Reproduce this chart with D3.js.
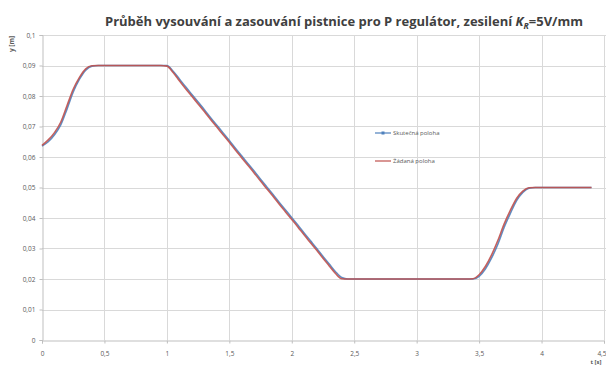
<!DOCTYPE html>
<html>
<head>
<meta charset="utf-8">
<script src="https://cdn.jsdelivr.net/npm/d3@7/dist/d3.min.js"></script>
<style>
  html, body { margin: 0; padding: 0; background: #ffffff; }
  svg { display: block; }
  text { font-family: "Open Sans", "Liberation Sans", Arial, sans-serif; }
</style>
</head>
<body>
<svg id="chart" width="606" height="365"></svg>
<script>
// Time samples [s]
const time = [
  0.00,0.05,0.10,0.15,0.20,0.25,0.30,0.35,0.40,0.45,
  0.50,0.55,0.60,0.65,0.70,0.75,0.80,0.85,0.90,0.95,
  1.00,1.05,1.10,1.15,1.20,1.25,1.30,1.35,1.40,1.45,
  1.50,1.55,1.60,1.65,1.70,1.75,1.80,1.85,1.90,1.95,
  2.00,2.05,2.10,2.15,2.20,2.25,2.30,2.35,2.40,2.45,
  2.50,2.55,2.60,2.65,2.70,2.75,2.80,2.85,2.90,2.95,
  3.00,3.05,3.10,3.15,3.20,3.25,3.30,3.35,3.40,3.45,
  3.50,3.55,3.60,3.65,3.70,3.75,3.80,3.85,3.90,3.95,
  4.00,4.05,4.10,4.15,4.20,4.25,4.30,4.35,4.40
];

// Measured piston rod position [m]
const actualPos = [
  0.0636,0.0650,0.0673,0.0705,0.0757,0.0813,0.0855,0.0885,0.0898,0.0900,
  0.0900,0.0900,0.0900,0.0900,0.0900,0.0900,0.0900,0.0900,0.0900,0.0900,
  0.0900,0.0881,0.0856,0.0830,0.0805,0.0780,0.0755,0.0729,0.0704,0.0679,
  0.0654,0.0628,0.0603,0.0578,0.0553,0.0527,0.0502,0.0477,0.0451,0.0426,
  0.0401,0.0376,0.0350,0.0325,0.0300,0.0274,0.0249,0.0224,0.0205,0.0200,
  0.0200,0.0200,0.0200,0.0200,0.0200,0.0200,0.0200,0.0200,0.0200,0.0200,
  0.0200,0.0200,0.0200,0.0200,0.0200,0.0200,0.0200,0.0200,0.0200,0.0200,
  0.0209,0.0233,0.0269,0.0314,0.0369,0.0415,0.0457,0.0484,0.0498,0.0500,
  0.0500,0.0500,0.0500,0.0500,0.0500,0.0500,0.0500,0.0500,0.0500
];

// Reference (desired) position [m]
const desiredPos = [
  0.0638,0.0656,0.0680,0.0714,0.0768,0.0822,0.0861,0.0889,0.0899,0.0900,
  0.0900,0.0900,0.0900,0.0900,0.0900,0.0900,0.0900,0.0900,0.0900,0.0900,
  0.0898,0.0877,0.0850,0.0824,0.0799,0.0774,0.0749,0.0723,0.0698,0.0673,
  0.0648,0.0622,0.0597,0.0572,0.0547,0.0521,0.0496,0.0471,0.0445,0.0420,
  0.0395,0.0370,0.0344,0.0319,0.0294,0.0268,0.0243,0.0218,0.0201,0.0200,
  0.0200,0.0200,0.0200,0.0200,0.0200,0.0200,0.0200,0.0200,0.0200,0.0200,
  0.0200,0.0200,0.0200,0.0200,0.0200,0.0200,0.0200,0.0200,0.0200,0.0201,
  0.0214,0.0241,0.0279,0.0326,0.0380,0.0425,0.0464,0.0488,0.0499,0.0500,
  0.0500,0.0500,0.0500,0.0500,0.0500,0.0500,0.0500,0.0500,0.0500
];

const xTicks = [0, 0.5, 1, 1.5, 2, 2.5, 3, 3.5, 4, 4.5];
const yTicks = [0, 0.01, 0.02, 0.03, 0.04, 0.05, 0.06, 0.07, 0.08, 0.09, 0.1];
const seriesNames = ["Skutečná poloha", "Žádaná poloha"];
const seriesColors = ["#4F81BD", "#C0504D"];

const svg = d3.select("#chart");
const W = 606, H = 365;
const plot = { left: 42, right: 604, top: 35, bottom: 340 };

const x = d3.scaleLinear().domain([0, 4.5]).range([plot.left, plot.right]);
const y = d3.scaleLinear().domain([0, 0.1]).range([plot.bottom, plot.top]);

const fmt = v => (v === 0 ? "0" : d3.format("~g")(v).replace(".", ","));

// Grid lines
const grid = svg.append("g");
grid.selectAll("line.h").data(yTicks.filter(v => v > 0)).join("line")
  .attr("x1", plot.left).attr("x2", W)
  .attr("y1", d => Math.round(y(d)) + 0.5).attr("y2", d => Math.round(y(d)) + 0.5)
  .attr("stroke", "#d9d9d9").attr("stroke-width", 1);
grid.selectAll("line.v").data(xTicks.filter(v => v > 0)).join("line")
  .attr("y1", plot.top).attr("y2", plot.bottom)
  .attr("x1", d => Math.round(x(d)) + 0.5).attr("x2", d => Math.round(x(d)) + 0.5)
  .attr("stroke", "#d9d9d9").attr("stroke-width", 1);

// Axes
const yAxis = d3.axisLeft(y).tickValues(yTicks).tickFormat(fmt).tickSize(3).tickPadding(4);
const xAxis = d3.axisBottom(x).tickValues(xTicks).tickFormat(fmt).tickSize(3).tickPadding(8);

const gy = svg.append("g").attr("transform", `translate(${plot.left + 0.5},0)`).call(yAxis);
const gx = svg.append("g").attr("transform", `translate(0,${plot.bottom + 0.5})`).call(xAxis);
[gx, gy].forEach(g => {
  g.select(".domain").attr("stroke", "#bfbfbf");
  g.selectAll(".tick line").attr("stroke", "#bfbfbf");
  g.selectAll(".tick text").attr("fill", "#595959").style("font-size", "6.5px");
});
// the last x label sits at the right edge of the chart
gx.selectAll(".tick text").filter(d => d === 4.5).attr("text-anchor", "end").attr("dx", 2);

// Axis titles
svg.append("text")
  .attr("transform", "translate(14,44) rotate(-90)")
  .attr("text-anchor", "middle")
  .attr("fill", "#595959").style("font-size", "6.5px").style("font-weight", "bold")
  .text("y [m]");
svg.append("text")
  .attr("x", 596).attr("y", 363.5)
  .attr("text-anchor", "middle")
  .attr("fill", "#595959").style("font-size", "6px").style("font-weight", "bold")
  .text("t [s]");

// Title
const title = svg.append("text")
  .attr("x", 105).attr("y", 26)
  .attr("fill", "#404040").style("font-size", "12px").style("font-weight", "bold")
  .attr("textLength", 478).attr("lengthAdjust", "spacingAndGlyphs");
title.append("tspan").text("Průběh vysouvání a zasouvání pistnice pro P regulátor, zesilení ");
title.append("tspan").style("font-style", "italic").text("K");
title.append("tspan").attr("dy", 3).style("font-size", "8px").style("font-style", "italic").text("R");
title.append("tspan").attr("dy", -3).text("=5V/mm");

// Series lines
const line = d3.line().x(d => x(d[0])).y(d => y(d[1])).curve(d3.curveMonotoneX);
const series = [actualPos, desiredPos];
series.forEach((vals, i) => {
  svg.append("path")
    .datum(time.map((t, k) => [t, vals[k]]))
    .attr("fill", "none")
    .attr("stroke", seriesColors[i])
    .attr("stroke-width", 1.6)
    .attr("stroke-opacity", 0.9)
    .attr("d", line);
});

// Legend
const legendY = [133, 161];
const legend = svg.append("g");
seriesNames.forEach((name, i) => {
  const g = legend.append("g").attr("transform", `translate(375,${legendY[i]})`);
  g.append("line").attr("x1", 0).attr("x2", 16).attr("y1", 0).attr("y2", 0)
    .attr("stroke", seriesColors[i]).attr("stroke-width", 1.2);
  if (i === 0) {
    g.append("rect").attr("x", 6.5).attr("y", -1.5).attr("width", 3).attr("height", 3)
      .attr("fill", seriesColors[i]);
  }
  g.append("text").attr("x", 18).attr("y", 2.2)
    .attr("fill", "#595959").style("font-size", "6px")
    .text(name);
});
</script>
</body>
</html>
